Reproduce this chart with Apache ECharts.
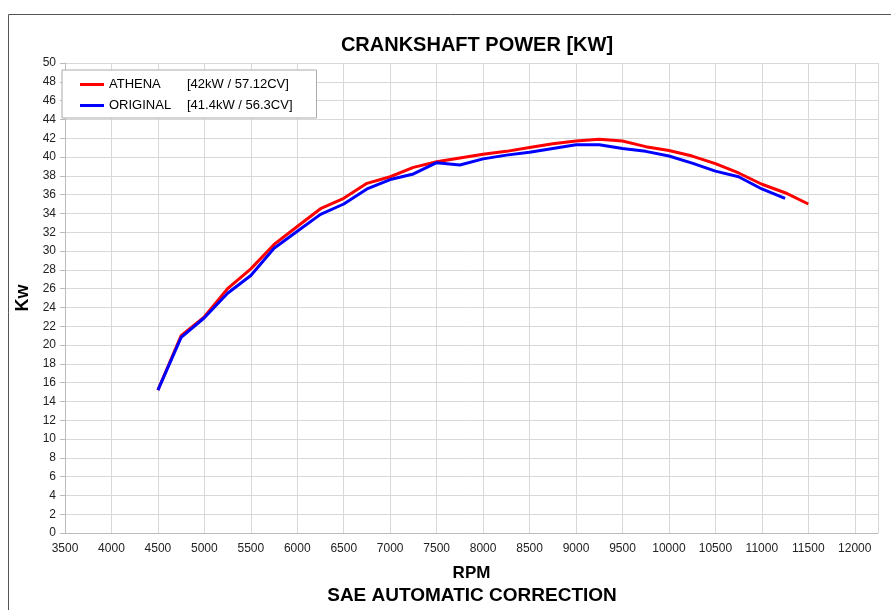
<!DOCTYPE html>
<html>
<head>
<meta charset="utf-8">
<script src="https://cdn.jsdelivr.net/npm/echarts@6/dist/echarts.min.js"></script>
<style>
  html, body { margin: 0; padding: 0; background: #fff; }
  #main { width: 891px; height: 610px; }
</style>
</head>
<body>
<div id="main"></div>
<script>
// rpm steps for each run
var rpmAthena = [4500, 4750, 5000, 5250, 5500, 5750, 6000, 6250, 6500, 6750, 7000, 7250, 7500, 7750, 8000, 8250, 8500, 8750, 9000, 9250, 9500, 9750, 10000, 10250, 10500, 10750, 11000, 11250, 11500];
var kwAthena  = [15.2, 21.0, 23.0, 26.0, 28.1, 30.7, 32.6, 34.5, 35.6, 37.2, 37.9, 38.9, 39.5, 39.9, 40.3, 40.6, 41.0, 41.4, 41.7, 41.9, 41.7, 41.1, 40.7, 40.1, 39.3, 38.3, 37.1, 36.2, 35.0];
var rpmOriginal = [4500, 4750, 5000, 5250, 5500, 5750, 6000, 6250, 6500, 6750, 7000, 7250, 7500, 7750, 8000, 8250, 8500, 8750, 9000, 9250, 9500, 9750, 10000, 10250, 10500, 10750, 11000, 11250];
var kwOriginal  = [15.2, 20.8, 22.9, 25.5, 27.4, 30.3, 32.1, 33.9, 35.0, 36.6, 37.6, 38.2, 39.4, 39.15, 39.8, 40.2, 40.5, 40.9, 41.3, 41.3, 40.9, 40.6, 40.1, 39.35, 38.5, 37.9, 36.6, 35.6];
var seriesNames = ['ATHENA', 'ORIGINAL'];
var peakLabels = ['[42kW / 57.12CV]', '[41.4kW / 56.3CV]'];

function pairs(xs, ys) {
    return xs.map(function (x, i) { return [x, ys[i]]; });
}

var myChart = echarts.init(document.getElementById('main'));
var font = 'Liberation Sans, Arial, sans-serif';
var option = {
    backgroundColor: '#fff',
    animation: false,
    title: {
        text: 'CRANKSHAFT POWER [KW]',
        left: 472, top: 30, textAlign: 'center',
        textStyle: { fontFamily: font, fontSize: 20, fontWeight: 'bold', color: '#000' }
    },
    graphic: [
        { type: 'rect', shape: { x: 8.5, y: 14.5, width: 900, height: 620 },
          style: { fill: 'none', stroke: '#555', lineWidth: 1 } },
        { type: 'text', x: 472, y: 586,
          style: { text: 'SAE AUTOMATIC CORRECTION', fontFamily: font, fontSize: 19, fontWeight: 'bold', fill: '#000', textAlign: 'center' } }
    ],
    legend: {
        orient: 'vertical',
        left: 62, top: 70,
        padding: [8, 24, 6, 18],
        itemGap: 8,
        itemWidth: 24, itemHeight: 3,
        backgroundColor: '#fff',
        borderColor: '#aaa', borderWidth: 1,
        data: seriesNames.map(function (n) { return { name: n, icon: 'rect' }; }),
        formatter: function (name) {
            return '{a|' + name + '}{b|' + peakLabels[seriesNames.indexOf(name)] + '}';
        },
        textStyle: {
            fontFamily: font, fontSize: 13, color: '#000',
            rich: { a: { width: 78, fontFamily: font, fontSize: 13 }, b: { fontFamily: font, fontSize: 13 } }
        }
    },
    grid: { left: 65, right: 13, top: 63, bottom: 77 },
    xAxis: {
        type: 'value', min: 3500, max: 12250, interval: 500,
        name: 'RPM', nameLocation: 'middle', nameGap: 32,
        nameTextStyle: { fontFamily: font, fontSize: 17, fontWeight: 'bold', color: '#000' },
        axisLine: { show: true, onZero: false, lineStyle: { color: '#bbb' } },
        axisTick: { show: false },
        axisLabel: {
            fontFamily: font, fontSize: 12, color: '#222', margin: 10,
            formatter: function (v) { return v % 500 === 0 ? String(v) : ''; }
        },
        splitLine: { show: true, lineStyle: { color: '#d8d8d8' } }
    },
    yAxis: {
        type: 'value', min: 0, max: 50, interval: 2,
        name: 'Kw', nameLocation: 'middle', nameGap: 25, nameRotate: 90,
        nameTextStyle: { fontFamily: font, fontSize: 18, fontWeight: 'bold', color: '#000' },
        axisLine: { show: true, lineStyle: { color: '#bbb' } },
        axisTick: { show: true, length: 5, lineStyle: { color: '#bbb' } },
        axisLabel: { fontFamily: font, fontSize: 12, color: '#222', margin: 9 },
        splitLine: { show: true, lineStyle: { color: '#d8d8d8' } }
    },
    series: [
        {
            name: seriesNames[0], type: 'line', data: pairs(rpmAthena, kwAthena),
            showSymbol: false, symbol: 'none', z: 2,
            itemStyle: { color: '#ff0000' },
            lineStyle: { color: '#ff0000', width: 3 }
        },
        {
            name: seriesNames[1], type: 'line', data: pairs(rpmOriginal, kwOriginal),
            showSymbol: false, symbol: 'none', z: 3,
            itemStyle: { color: '#0000ff' },
            lineStyle: { color: '#0000ff', width: 3 }
        }
    ]
};
myChart.setOption(option);
</script>
</body>
</html>
